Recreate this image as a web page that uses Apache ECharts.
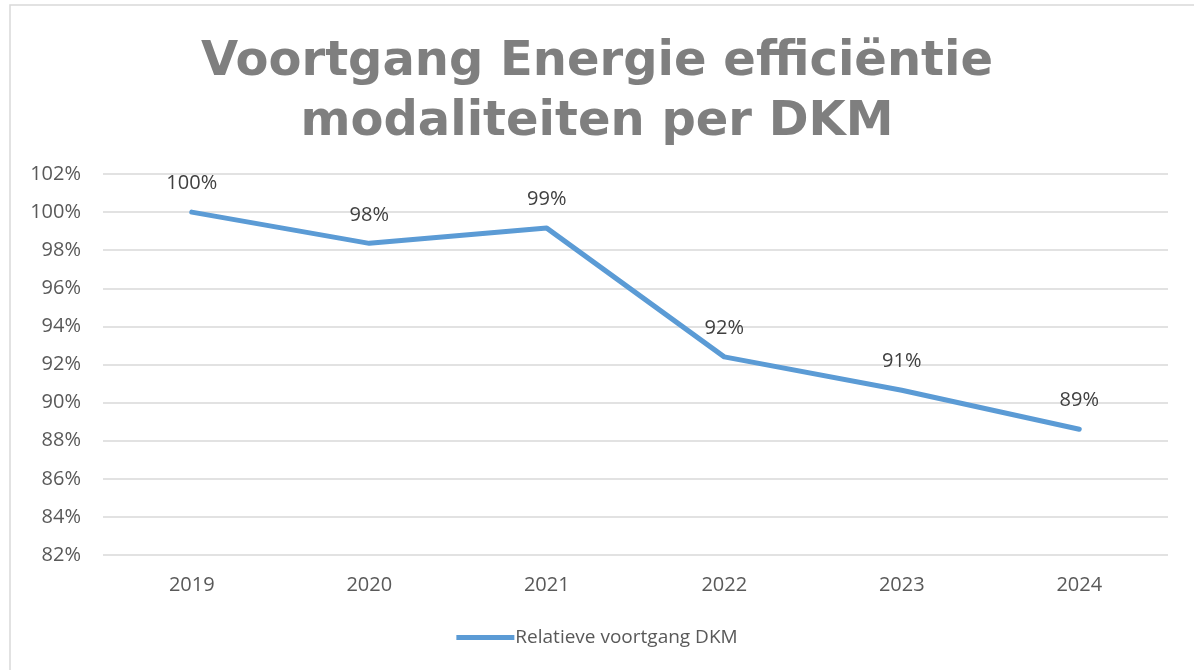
<!DOCTYPE html>
<html>
<head>
<meta charset="utf-8">
<script src="https://cdn.jsdelivr.net/npm/echarts@6/dist/echarts.min.js"></script>
<style>
html,body{margin:0;padding:0;background:#fff;}
#chart{width:1194px;height:670px;}
</style>
</head>
<body>
<div id="chart"></div>
<script>
const categories = ['2019', '2020', '2021', '2022', '2023', '2024'];
const relatieveVoortgang = [100, 98.36, 99.16, 92.4, 90.65, 88.6];
const seriesName = 'Relatieve voortgang DKM';
const titleText = 'Voortgang Energie efficiëntie\nmodaliteiten per DKM';

const chart = echarts.init(document.getElementById('chart'));
chart.setOption({
  backgroundColor: '#ffffff',
  animation: false,
  graphic: [{
    type: 'rect',
    shape: { x: 10, y: 5, width: 1200, height: 700 },
    style: { fill: 'none', stroke: '#d9d9d9', lineWidth: 1.5 },
    silent: true
  }],
  title: {
    text: titleText,
    left: 'center',
    top: 28,
    padding: [5, 0, 5, 10],
    textStyle: {
      fontFamily: 'DejaVu Sans',
      fontWeight: 'bold',
      fontSize: 48,
      lineHeight: 60,
      color: '#7f7f7f'
    }
  },
  legend: {
    bottom: 18,
    left: 'center',
    itemWidth: 58,
    itemHeight: 5,
    icon: 'rect',
    itemGap: 0,
    itemStyle: { color: '#5b9bd5', opacity: 1 },
    textStyle: { fontFamily: 'Open Sans', fontSize: 19, color: '#595959', padding: [0, 0, 0, -4] },
    data: [seriesName]
  },
  grid: { left: 103, right: 26, top: 174, bottom: 115, containLabel: false },
  xAxis: {
    type: 'category',
    data: categories,
    boundaryGap: true,
    axisLine: { show: false },
    axisTick: { show: false },
    axisLabel: { fontFamily: 'Open Sans', fontSize: 20, color: '#595959', margin: 20 }
  },
  yAxis: {
    type: 'value',
    min: 82,
    max: 102,
    interval: 2,
    axisLine: { show: false },
    axisTick: { show: false },
    splitLine: { lineStyle: { color: '#d9d9d9', width: 1.5 } },
    axisLabel: {
      fontFamily: 'Open Sans', fontSize: 20, color: '#595959', margin: 22,
      formatter: v => v + '%'
    }
  },
  series: [{
    name: seriesName,
    type: 'line',
    data: relatieveVoortgang,
    symbol: 'circle',
    symbolSize: 1,
    showSymbol: true,
    lineStyle: { color: '#5b9bd5', width: 5, cap: 'round', join: 'round' },
    itemStyle: { color: '#5b9bd5', opacity: 0 },
    label: {
      show: true,
      position: 'top',
      distance: 18,
      fontFamily: 'Open Sans',
      fontSize: 20,
      color: '#404040',
      opacity: 1,
      formatter: p => Math.round(p.value) + '%'
    }
  }]
});
</script>
</body>
</html>
